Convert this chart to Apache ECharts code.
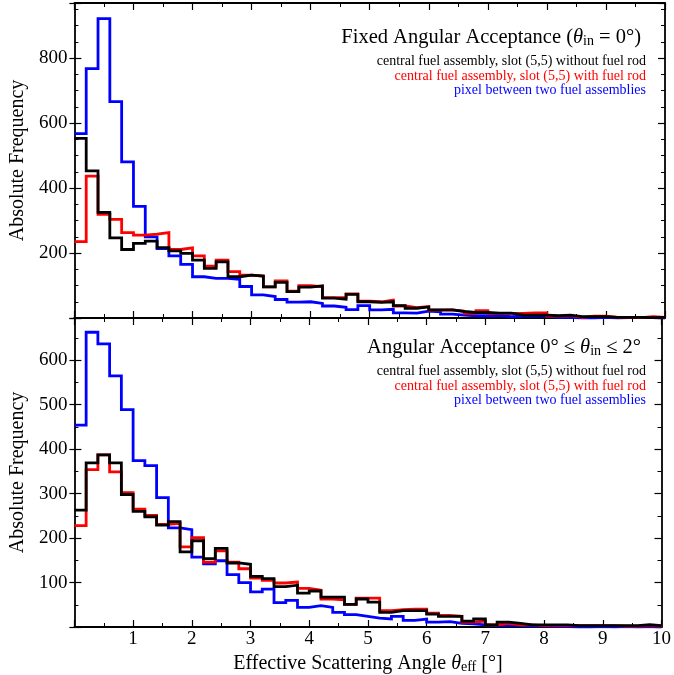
<!DOCTYPE html>
<html>
<head>
<meta charset="utf-8">
<script src="https://cdn.jsdelivr.net/npm/echarts@6/dist/echarts.min.js"></script>
<style>html,body{margin:0;padding:0;background:#fff}#c{width:674px;height:675px}</style>
</head>
<body>
<div id="c"></div>
<script>
// Bin edges (degrees), 50 bins of 0.2
const binEdges = [0,0.2,0.4,0.6,0.8,1,1.2,1.4,1.6,1.8,2,2.2,2.4,2.6,2.8,3,3.2,3.4,3.6,3.8,4,4.2,4.4,4.6,4.8,5,5.2,5.4,5.6,5.8,6,6.2,6.4,6.6,6.8,7,7.2,7.4,7.6,7.8,8,8.2,8.4,8.6,8.8,9,9.2,9.4,9.6,9.8,10];

// Top panel: fixed angular acceptance
const topWithout = [553,453,325,247,211,230,237,217,207,199,178,153,173,127,132,129,96,110,81,95,99,61,58,73,50,48,50,38,30,34,25,25,20,17,17,15,15,9,9,9,7,9,4,4,4,2,2,2,1,2];
const topWith    = [235,437,319,304,263,255,258,263,211,216,191,160,178,143,132,129,96,114,83,100,96,63,63,74,52,50,55,37,32,35,24,25,21,14,23,14,14,14,16,16,6,7,2,6,6,2,2,1,4,2];
const topPixel   = [568,768,922,666,481,344,250,214,191,165,127,122,122,119,97,71,66,57,49,50,45,37,33,26,38,25,27,16,15,21,19,12,9,7,7,7,4,6,7,6,2,2,0,0,2,0,1,1,1,0];

// Bottom panel: angular acceptance 0..2 deg
const botWithout = [263,369,387,369,298,260,248,229,237,169,194,154,177,144,141,114,109,91,94,76,81,67,67,51,63,56,33,37,37,37,29,24,24,13,18,5,11,8,5,5,5,5,3,3,3,3,3,3,5,3];
const botWith    = [228,354,387,349,302,265,251,231,233,180,201,146,171,146,131,110,105,99,101,87,83,63,61,51,65,65,37,39,40,40,31,26,24,11,13,5,8,5,5,3,3,3,3,3,3,3,2,2,3,2];
const botPixel   = [454,663,637,565,489,374,363,291,223,219,157,142,149,118,100,79,85,55,60,44,48,44,33,28,24,20,18,24,15,18,11,12,8,7,5,3,4,3,2,2,1,1,0,0,1,0,1,0,1,0];

const xTicks = [1,2,3,4,5,6,7,8,9,10];
const topYTicks = [200,400,600,800];
const botYTicks = [100,200,300,400,500,600];

const legendLabels = ['central fuel assembly, slot (5,5) without fuel rod','central fuel assembly, slot (5,5) with fuel rod','pixel between two fuel assemblies'];
const colors = ['#000000','#ff0000','#0000ff'];

const FONT = 'Liberation Serif';

function steps(vals){
  const d = vals.map((v,i)=>[binEdges[i], v]);
  d.push([binEdges[binEdges.length-1], vals[vals.length-1]]);
  return d;
}

const GL = 73, GR = 9;
const grids = [
  {left: GL, right: GR, top: 3, height: 315},
  {left: GL, right: GR, top: 318, height: 313}
];

function axisLine(show){ return {show:show, onZero:false, lineStyle:{color:'#000', width:1.8}}; }

function xAxis(grid, pos, showLabel, name){
  const a = {
    type:'value', gridIndex:grid, position:pos, min:0, max:10, interval:1,
    axisLine: axisLine(true),
    axisTick:{show:true, inside:true, length:7, lineStyle:{color:'#000', width:1.2}},
    minorTick:{show:true, splitNumber:2, length:4, lineStyle:{color:'#000', width:1}},
    splitLine:{show:false},
    axisLabel:{show:showLabel, margin:3, color:'#000', fontFamily:FONT, fontSize:19,
      formatter: v => xTicks.indexOf(v) >= 0 ? String(v) : ''}
  };
  if (name) {
    a.name = name; a.nameLocation='middle'; a.nameGap = 27;
    a.nameTextStyle = {color:'#000', fontFamily:FONT, fontSize:20,
      rich:{it:{fontFamily:FONT, fontStyle:'italic', fontSize:20, color:'#000'},
            sub:{fontFamily:FONT, fontSize:14, color:'#000', verticalAlign:'bottom', lineHeight:12, padding:[7,0,0,0]}}};
  }
  return a;
}
function yAxis(grid, pos, max, interval, minorSplit, ticks, showLabel){
  const a = {
    type:'value', gridIndex:grid, position:pos, min:0, max:max, interval:interval,
    axisLine: axisLine(true),
    axisTick:{show:true, inside:true, length:7, lineStyle:{color:'#000', width:1.2}},
    minorTick:{show:true, splitNumber:minorSplit, length:4, lineStyle:{color:'#000', width:1}},
    splitLine:{show:false},
    axisLabel:{show:showLabel, margin:7, color:'#000', fontFamily:FONT, fontSize:19,
      formatter: v => ticks.indexOf(v) >= 0 ? String(v) : ''}
  };
  if (showLabel) {
    a.name = 'Absolute Frequency'; a.nameLocation='middle'; a.nameGap = 46;
    a.nameTextStyle = {color:'#000', fontFamily:FONT, fontSize:20};
  }
  return a;
}
// outward part of the major ticks on the left axes
function yOuter(grid, max, interval, ticks){
  return {
    type:'value', gridIndex:grid, position:'left', min:0, max:max, interval:interval,
    axisLine: axisLine(false),
    axisTick:{show:true, inside:false, length:5, lineStyle:{color:'#000', width:1.2},
      interval: (i, v) => ticks.indexOf(Number(v)) >= 0},
    axisLabel:{show:false}, splitLine:{show:false}
  };
}

const xAxes = [
  xAxis(0,'bottom',false), xAxis(0,'top',false),
  xAxis(1,'bottom',true,'Effective Scattering Angle {it|θ}{sub|eff} [°]'), xAxis(1,'top',false)
];
const yAxes = [
  yAxis(0,'left',970,200,4,topYTicks,true), yAxis(0,'right',970,200,4,topYTicks,false),
  yAxis(1,'left',695,100,2,botYTicks,true), yAxis(1,'right',695,100,2,botYTicks,false),
  yOuter(0,970,200,topYTicks), yOuter(1,695,100,botYTicks)
];

function ser(data, color, xi, yi, z){
  return {type:'line', step:'end', data:steps(data), xAxisIndex:xi, yAxisIndex:yi,
    showSymbol:false, symbol:'none', z:z, animation:false,
    lineStyle:{color:color, width:2.8, join:'miter'}};
}

const series = [
  ser(topPixel, colors[2], 0, 0, 2),
  ser(topWith, colors[1], 0, 0, 3),
  ser(topWithout, colors[0], 0, 0, 4),
  ser(botPixel, colors[2], 2, 2, 2),
  ser(botWith, colors[1], 2, 2, 3),
  ser(botWithout, colors[0], 2, 2, 4)
];

const richTitle = {
  it:{fontFamily:FONT, fontStyle:'italic', fontSize:20.5, color:'#000'},
  sub:{fontFamily:FONT, fontSize:14, color:'#000', verticalAlign:'bottom', lineHeight:12, padding:[7,0,0,0]}
};
const titles = [
  {text:'Fixed Angular Acceptance ({it|θ}{sub|in} = 0°)', right:28, top:22,
   textStyle:{fontFamily:FONT, fontSize:20.5, fontWeight:'normal', color:'#000', rich:richTitle}},
  {text:'Angular Acceptance 0° ≤ {it|θ}{sub|in} ≤ 2°', right:28, top:332,
   textStyle:{fontFamily:FONT, fontSize:20.5, fontWeight:'normal', color:'#000', rich:richTitle}}
];

const graphics = [];
[[61.5,76,90.5],[371.5,386,400.5]].forEach(ys => {
  ys.forEach((y,i) => {
    graphics.push({type:'text', x:646, y:y,
      style:{text:legendLabels[i], fill:colors[i], font:'14px "'+FONT+'"', textAlign:'right', textVerticalAlign:'middle'}});
  });
});

const chart = echarts.init(document.getElementById('c'), null, {renderer:'canvas'});
chart.setOption({
  animation:false,
  backgroundColor:'#fff',
  title: titles,
  grid: grids,
  xAxis: xAxes,
  yAxis: yAxes,
  series: series,
  graphic: graphics
});
</script>
</body>
</html>
